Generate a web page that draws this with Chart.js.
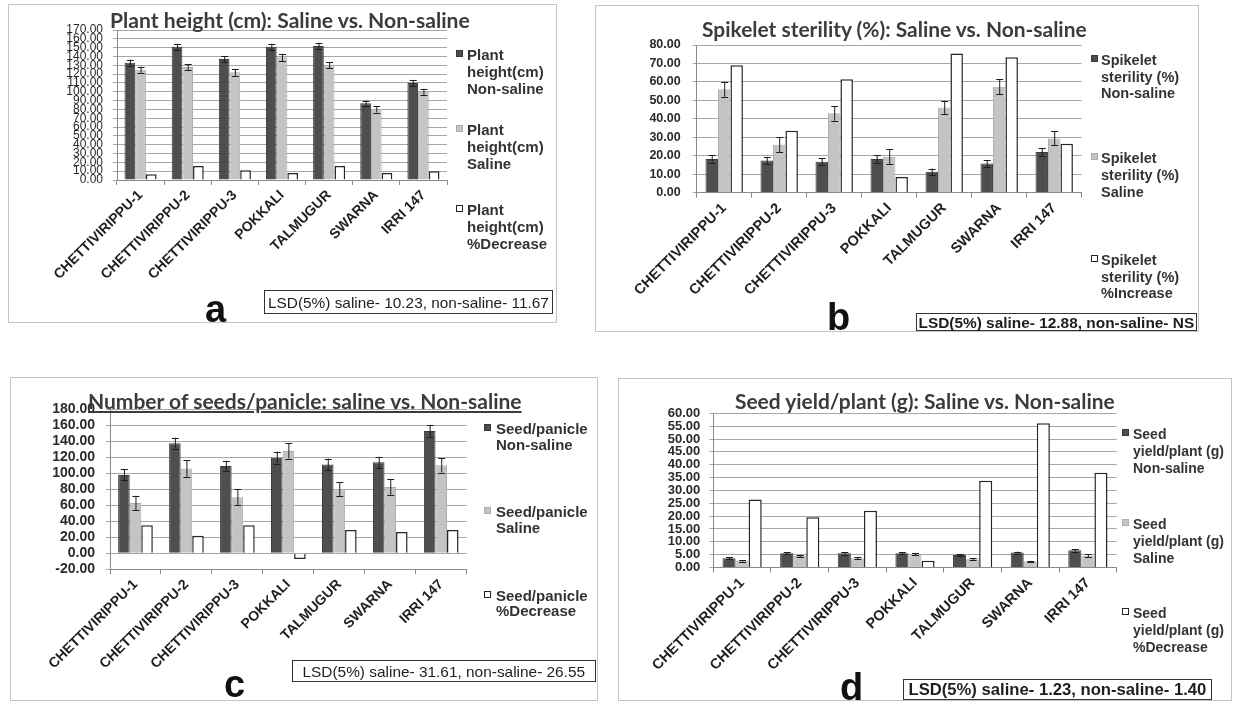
<!DOCTYPE html>
<html><head><meta charset="utf-8">
<script src="https://cdn.jsdelivr.net/npm/chart.js@4.4.1/dist/chart.umd.min.js"></script>
<style>
body{margin:0;background:#fff;}
#page{position:relative;width:1235px;height:702px;overflow:hidden;background:#fff;font-family:'Liberation Sans',Arial,sans-serif;}
.box{position:absolute;border:1px solid #c4c4c4;box-sizing:border-box;}
canvas{position:absolute;}
.t{position:absolute;white-space:nowrap;}
.mk{position:absolute;width:7px;height:7px;box-sizing:border-box;}
.lsd{position:absolute;border:1px solid #333;box-sizing:border-box;background:#fff;}
</style></head>
<body>
<div id="page"></div>
<script>
// ---------------- DATA ----------------
const categories = ['CHETTIVIRIPPU-1','CHETTIVIRIPPU-2','CHETTIVIRIPPU-3','POKKALI','TALMUGUR','SWARNA','IRRI 147'];

// (a) Plant height (cm)
const heightNonSaline    = [133, 151, 137, 151, 152, 87, 110];
const heightSaline       = [125, 128, 122, 139, 130, 80, 100];
const heightDecrease     = [6.5, 16, 11, 8, 16, 8, 10];
const heightNonSalineErr = [3.5, 3.5, 3.5, 3.5, 3.5, 3, 3.5];
const heightSalineErr    = [3.5, 3.5, 4, 4, 3.5, 3.5, 3.5];
const heightLegend = ['Plant\nheight(cm)\nNon-saline', 'Plant\nheight(cm)\nSaline', 'Plant\nheight(cm)\n%Decrease'];
const heightTitle = 'Plant height (cm): Saline vs. Non-saline';
const heightLSD = 'LSD(5%) saline- 10.23, non-saline- 11.67';
const heightAxis = {min: 0, max: 170, step: 10};

// (b) Spikelet sterility (%)
const sterilityNonSaline    = [18.3, 17.5, 16.8, 18.3, 11.3, 15.8, 22];
const sterilitySaline       = [56, 26, 43, 19.5, 46.2, 57.4, 29.4];
const sterilityIncrease     = [69, 33.5, 61.5, 8.5, 75.4, 73.4, 26.5];
const sterilityNonSalineErr = [2, 2, 2, 2, 1.8, 1.8, 2.3];
const sterilitySalineErr    = [4, 4, 4, 4, 3.6, 4, 3.8];
const sterilityLegend = ['Spikelet\nsterility (%)\nNon-saline', 'Spikelet\nsterility (%)\nSaline', 'Spikelet\nsterility (%)\n%Increase'];
const sterilityTitle = 'Spikelet sterility (%): Saline vs. Non-saline';
const sterilityLSD = 'LSD(5%) saline- 12.88, non-saline- NS';
const sterilityAxis = {min: 0, max: 80, step: 10};

// (c) Number of seeds/panicle
const seedsNonSaline    = [98, 137.5, 109, 119.5, 111, 113.7, 153];
const seedsSaline       = [63, 106, 70, 128, 80, 83, 110];
const seedsDecrease     = [35, 22, 35, -7, 29, 26.5, 29];
const seedsNonSalineErr = [7, 7, 6.7, 7.5, 7.5, 7, 7.5];
const seedsSalineErr    = [9, 10.5, 10, 9.5, 8.5, 10, 9];
const seedsLegend = ['Seed/panicle\nNon-saline', 'Seed/panicle\nSaline', 'Seed/panicle\n%Decrease'];
const seedsTitle = 'Number of seeds/panicle: saline vs. Non-saline';
const seedsLSD = 'LSD(5%) saline- 31.61, non-saline- 26.55';
const seedsAxis = {min: -20, max: 180, step: 20};

// (d) Seed yield/plant (g)
const yieldNonSaline    = [3.6, 5.5, 5.5, 5.5, 4.9, 5.8, 6.7];
const yieldSaline       = [2.6, 4.5, 3.6, 5.2, 3.2, 2.3, 4.6];
const yieldDecrease     = [26.5, 19.6, 22.1, 2.6, 33.8, 56.1, 36.9];
const yieldNonSalineErr = [0.4, 0.4, 0.5, 0.4, 0.4, 0.4, 0.5];
const yieldSalineErr    = [0.3, 0.4, 0.4, 0.5, 0.4, 0.3, 0.5];
const yieldLegend = ['Seed\nyield/plant (g)\nNon-saline', 'Seed\nyield/plant (g)\nSaline', 'Seed\nyield/plant (g)\n%Decrease'];
const yieldTitle = 'Seed yield/plant (g): Saline vs. Non-saline';
const yieldLSD = 'LSD(5%) saline- 1.23, non-saline- 1.40';
const yieldAxis = {min: 0, max: 60, step: 5};

const panelLetters = ['a', 'b', 'c', 'd'];

// ---------------- STYLE / LAYOUT ----------------
const SERIES_STYLE = [
  {bg: '#4e4e4e', border: '#3a3a3a', bw: 1},
  {bg: '#c4c4c4', border: '#adadad', bw: 1},
  {bg: '#ffffff', border: '#262626', bw: 1.5}
];
const FAM = "'Liberation Sans', Arial, sans-serif";
const TFAM = "Lato, 'Liberation Sans', sans-serif";

const panels = [
  { id: 'a', series: [heightNonSaline, heightSaline, heightDecrease], errs: [heightNonSalineErr, heightSalineErr, null],
    legend: heightLegend, title: heightTitle, lsd: heightLSD, axis: heightAxis,
    box: [8, 4, 549, 319], plot: [117, 447, 30, 180],
    yFont: {size: 12, weight: 'normal'}, yPad: 10, xFont: 14,
    titlePos: {x: 110, w: 360, base: 28},
    leg: {tx: 467, mx: 456, fs: 15, lh: 17, bases: [60, 135, 215]},
    lsdBox: {x: 264, y: 290, w: 289, h: 24, bold: false, tw: 281},
    letter: {x: 205, base: 322} },
  { id: 'b', series: [sterilityNonSaline, sterilitySaline, sterilityIncrease], errs: [sterilityNonSalineErr, sterilitySalineErr, null],
    legend: sterilityLegend, title: sterilityTitle, lsd: sterilityLSD, axis: sterilityAxis,
    box: [595, 5, 604, 327], plot: [696.7, 1081.7, 45, 192.7],
    yFont: {size: 12.5, weight: 'bold'}, yPad: 12, xFont: 14.5,
    titlePos: {x: 702, w: 385, base: 37},
    leg: {tx: 1101, mx: 1091, fs: 14.5, lh: 16.7, bases: [65, 163.3, 265]},
    lsdBox: {x: 916, y: 313, w: 281, h: 18, bold: true, tw: 276},
    letter: {x: 827, base: 330} },
  { id: 'c', series: [seedsNonSaline, seedsSaline, seedsDecrease], errs: [seedsNonSalineErr, seedsSalineErr, null],
    legend: seedsLegend, title: seedsTitle, lsd: seedsLSD, axis: seedsAxis,
    box: [10, 377, 588, 324], plot: [110, 466.7, 409.3, 569.3],
    yFont: {size: 14, weight: 'bold'}, yPad: 11, xFont: 14,
    titlePos: {x: 88, w: 434, base: 409, underline: true},
    leg: {tx: 496, mx: 484, fs: 15, lh: 15.5, bases: [434, 517.3, 600.7]},
    lsdBox: {x: 292, y: 660, w: 304, h: 22, bold: false, tw: 283},
    letter: {x: 224, base: 697} },
  { id: 'd', series: [yieldNonSaline, yieldSaline, yieldDecrease], errs: [yieldNonSalineErr, yieldSalineErr, null],
    legend: yieldLegend, title: yieldTitle, lsd: yieldLSD, axis: yieldAxis,
    box: [618, 378, 614, 323], plot: [713.3, 1116.7, 413.3, 567.5],
    yFont: {size: 13, weight: 'bold'}, yPad: 9, xFont: 14.5,
    titlePos: {x: 735, w: 380, base: 409},
    leg: {tx: 1133, mx: 1122, fs: 14, lh: 16.7, bases: [439.3, 529.3, 618.3]},
    lsdBox: {x: 903, y: 679, w: 309, h: 21, bold: true, tw: 298},
    letter: {x: 840, base: 700} }
];

const page = document.getElementById('page');

function baselineOffset(font, lh) {
  const d = document.createElement('div');
  d.style.cssText = 'position:absolute;left:-9999px;top:0;white-space:nowrap';
  d.style.font = font; d.style.lineHeight = lh + 'px';
  d.innerHTML = 'Hg<span style="display:inline-block;width:1px;height:0;vertical-align:baseline"></span>';
  document.body.appendChild(d);
  const off = d.querySelector('span').getBoundingClientRect().top - d.getBoundingClientRect().top;
  d.remove();
  return off;
}

function addText(o) {
  const d = document.createElement('div');
  d.className = 't';
  const fontOf = fs => `${o.weight || 400} ${fs}px ${o.family || FAM}`;
  let fs = o.fs;
  d.style.font = fontOf(fs);
  d.style.lineHeight = (o.lh || fs) + 'px';
  d.style.color = o.color || '#333';
  if (o.underline) d.style.textDecoration = 'underline';
  o.text.split('\n').forEach((line, i) => {
    if (i) d.appendChild(document.createElement('br'));
    d.appendChild(document.createTextNode(line));
  });
  d.style.left = o.x + 'px'; d.style.top = '0px';
  page.appendChild(d);
  if (o.fitW) {
    const w = d.getBoundingClientRect().width;
    fs = fs * o.fitW / w;
    d.style.fontSize = fs + 'px';
    if (!o.lh) d.style.lineHeight = fs + 'px';
  }
  const lh = o.lh || fs;
  const base = o.base != null ? o.base : o.centerY + 0.358 * fs;
  d.style.top = (base - baselineOffset(fontOf(fs), lh)) + 'px';
  return d;
}

const errorBarPlugin = {
  id: 'errorBars',
  afterDatasetsDraw(chart) {
    const ctx = chart.ctx, ys = chart.scales.y;
    chart.data.datasets.forEach((ds, i) => {
      if (!ds.errorValues) return;
      const meta = chart.getDatasetMeta(i);
      meta.data.forEach((bar, j) => {
        const v = ds.data[j], e = ds.errorValues[j];
        const x = bar.x, yt = ys.getPixelForValue(v + e), yb = ys.getPixelForValue(v - e);
        ctx.save();
        ctx.strokeStyle = '#1e1e1e'; ctx.lineWidth = 1;
        ctx.beginPath();
        ctx.moveTo(x + 0.5, yt); ctx.lineTo(x + 0.5, yb);
        ctx.moveTo(x - 3, Math.round(yt) + 0.5); ctx.lineTo(x + 4, Math.round(yt) + 0.5);
        ctx.moveTo(x - 3, Math.round(yb) + 0.5); ctx.lineTo(x + 4, Math.round(yb) + 0.5);
        ctx.stroke();
        ctx.restore();
      });
    });
  }
};

panels.forEach((p, pi) => {
  const [bx, by, bw, bh] = p.box;
  const [pl, pr, pt, pb] = p.plot;
  const boxDiv = document.createElement('div');
  boxDiv.className = 'box';
  Object.assign(boxDiv.style, {left: bx + 'px', top: by + 'px', width: bw + 'px', height: bh + 'px'});
  page.appendChild(boxDiv);

  const cv = document.createElement('canvas');
  cv.width = bw; cv.height = bh;
  Object.assign(cv.style, {left: bx + 'px', top: by + 'px', width: bw + 'px', height: bh + 'px'});
  page.appendChild(cv);

  const yW = 70;
  const xH = by + bh - pb;
  new Chart(cv, {
    type: 'bar',
    data: {
      labels: categories,
      datasets: p.series.map((s, k) => ({
        label: p.legend[k].replace(/\n/g, ' '),
        data: s,
        errorValues: p.errs[k],
        backgroundColor: SERIES_STYLE[k].bg,
        borderColor: SERIES_STYLE[k].border,
        borderWidth: SERIES_STYLE[k].bw,
        categoryPercentage: 0.68,
        barPercentage: 1
      }))
    },
    options: {
      responsive: false,
      animation: false,
      devicePixelRatio: 1,
      layout: {padding: {left: pl - bx - yW, right: bx + bw - pr, top: pt - by, bottom: 0}},
      plugins: {legend: {display: false}, tooltip: {enabled: false}, title: {display: false}},
      scales: {
        x: {
          grid: {display: true, drawOnChartArea: false, drawTicks: true, tickLength: 5, color: '#8a8a8a', offset: true},
          border: {display: true, color: '#8a8a8a'},
          ticks: {autoSkip: false, maxRotation: 45, minRotation: 45, padding: 2, color: '#1e1e1e',
                  font: {family: FAM, size: p.xFont, weight: 'bold'}},
          afterFit: s => { s.height = xH; }
        },
        y: {
          min: p.axis.min, max: p.axis.max,
          grid: {color: '#a6a6a6', tickLength: 4, drawTicks: true},
          border: {display: true, color: '#8a8a8a'},
          ticks: {stepSize: p.axis.step, autoSkip: false, padding: p.yPad, color: '#2a2a2a',
                  font: {family: FAM, size: p.yFont.size, weight: p.yFont.weight},
                  callback: v => Number(v).toFixed(2)},
          afterFit: s => { s.width = yW; }
        }
      }
    },
    plugins: [errorBarPlugin]
  });

  // Title
  addText({text: p.title, x: p.titlePos.x, base: p.titlePos.base, fs: 18, weight: 700, family: TFAM,
           color: '#3b3b3b', fitW: p.titlePos.w, underline: p.titlePos.underline});

  // Legend
  p.legend.forEach((txt, k) => {
    const base = p.leg.bases[k];
    addText({text: txt, x: p.leg.tx, base: base, fs: p.leg.fs, lh: p.leg.lh, weight: 700, color: '#333'});
    const m = document.createElement('div');
    m.className = 'mk';
    Object.assign(m.style, {left: p.leg.mx + 'px', top: (base - 10) + 'px', background: SERIES_STYLE[k].bg,
      border: '1px solid ' + SERIES_STYLE[k].border});
    page.appendChild(m);
  });

  // LSD box
  const lb = p.lsdBox;
  const ld = document.createElement('div');
  ld.className = 'lsd';
  Object.assign(ld.style, {left: lb.x + 'px', top: lb.y + 'px', width: lb.w + 'px', height: lb.h + 'px'});
  page.appendChild(ld);
  addText({text: p.lsd, x: lb.x + (lb.w - lb.tw) / 2, centerY: lb.y + lb.h / 2, fs: 15, weight: lb.bold ? 700 : 400,
           color: '#1e1e1e', fitW: lb.tw});

  // Panel letter
  addText({text: panelLetters[pi], x: p.letter.x, base: p.letter.base, fs: 38, weight: 700, color: '#111'});
});
</script>
</body></html>
